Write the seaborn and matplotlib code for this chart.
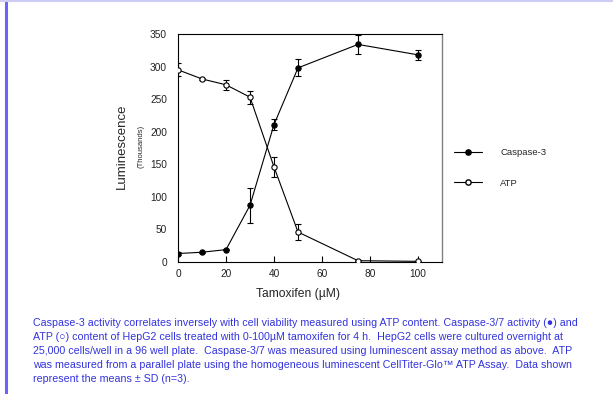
import numpy as np
import pandas as pd
import matplotlib
matplotlib.use("Agg")
import matplotlib.pyplot as plt
import seaborn as sns
from matplotlib.lines import Line2D

# ---- data ----
tamoxifen = [0, 10, 20, 30, 40, 50, 75, 100]
caspase = [13, 15, 19, 87, 211, 298, 334, 318]
caspase_sd = [2, 1, 1, 27, 8, 13, 14, 8]
atp = [295, 281, 272, 253, 146, 46, 2, 1]
atp_sd = [10, 2, 8, 10, 15, 12, 1, 1]
series_names = ["Caspase-3", "ATP"]
x_ticks = [0, 20, 40, 60, 80, 100]
y_ticks = [0, 50, 100, 150, 200, 250, 300, 350]

caption = ("Caspase-3 activity correlates inversely with cell viability measured using ATP content. Caspase-3/7 activity (\u25CF) and\n"
           "ATP (\u25CB) content of HepG2 cells treated with 0-100\u00b5M tamoxifen for 4 h.  HepG2 cells were cultured overnight at\n"
           "25,000 cells/well in a 96 well plate.  Caspase-3/7 was measured using luminescent assay method as above.  ATP\n"
           "was measured from a parallel plate using the homogeneous luminescent CellTiter-Glo\u2122 ATP Assay.  Data shown\n"
           "represent the means \u00b1 SD (n=3).")

sns.set_theme(style="white")
plt.rcParams['font.family'] = ['Liberation Sans', 'DejaVu Sans']

df = pd.DataFrame({
    "x": tamoxifen * 2,
    "y": caspase + atp,
    "series": [series_names[0]] * len(tamoxifen) + [series_names[1]] * len(tamoxifen),
})

W, H = 613, 394
fig = plt.figure(figsize=(W / 100, H / 100), dpi=100)
ax = fig.add_axes([178 / W, 1 - 262 / H, (442 - 178) / W, (262 - 34) / H])

sns.lineplot(data=df, x="x", y="y", hue="series", style="series",
             palette={"Caspase-3": "black", "ATP": "black"},
             dashes=False, markers={"Caspase-3": "o", "ATP": "o"},
             linewidth=0.8, markersize=0, legend=False, ax=ax, zorder=2)

MS = 3.8
ax.errorbar(tamoxifen, caspase, yerr=caspase_sd, fmt="o", color="black",
            ms=MS, mfc="black", mec="black", mew=0.8, elinewidth=0.8,
            capsize=2.2, capthick=0.8, zorder=3)
ax.errorbar(tamoxifen, atp, yerr=atp_sd, fmt="o", color="black",
            ms=MS, mfc="white", mec="black", mew=0.8, elinewidth=0.8,
            capsize=2.2, capthick=0.8, zorder=3)

ax.set_xlim(0, 110)
ax.set_ylim(0, 350)
ax.set_xticks(x_ticks)
ax.set_yticks(y_ticks)
ax.tick_params(axis="x", direction="in", length=4, width=0.8, colors="black",
               labelsize=7.3, pad=5, bottom=True)
ax.tick_params(axis="y", length=0, labelsize=7.3, pad=8)
for lab in ax.get_xticklabels() + ax.get_yticklabels():
    lab.set_color("#222222")
ax.set_xlabel("")
ax.set_ylabel("")
for s in ["left", "bottom", "top"]:
    ax.spines[s].set_color("black")
    ax.spines[s].set_linewidth(0.8)
ax.spines["right"].set_color("#808080")
ax.spines["right"].set_linewidth(1.0)
ax.grid(False)

# axis labels
fig.text(298 / W, 1 - 294 / H, "Tamoxifen (\u00b5M)", ha="center", va="center", fontsize=8.7)
fig.text(122 / W, 1 - 146 / H, "Luminescence", ha="center", va="center", rotation=90, fontsize=9.5)
fig.text(141 / W, 1 - 146 / H, "(Thousands)", ha="center", va="center", rotation=90, fontsize=5.5)

# legend
handles = [
    Line2D([], [], color="black", lw=0.8, marker="o", ms=MS, mfc="black", mec="black"),
    Line2D([], [], color="black", lw=0.8, marker="o", ms=MS, mfc="white", mec="black"),
]
fig.legend(handles, series_names, loc="upper left", bbox_to_anchor=(454 / W, 1 - 148 / H),
           frameon=False, fontsize=6.8, handlelength=3.0, handletextpad=1.9,
           labelspacing=2.3, borderaxespad=0, borderpad=0)

# caption
fig.text(33 / W, 1 - 318.5 / H, caption, ha="left", va="top", fontsize=7.65,
         color="#3333dd", linespacing=1.48)

# page borders
fig.add_artist(Line2D([6 / W, 6 / W], [0, 1], transform=fig.transFigure, color="#6666ff", lw=2.2))
fig.add_artist(Line2D([0, 1], [1 - 0.5 / H, 1 - 0.5 / H], transform=fig.transFigure, color="#ccccf5", lw=1.5))

fig.savefig("out.png", dpi=100)
